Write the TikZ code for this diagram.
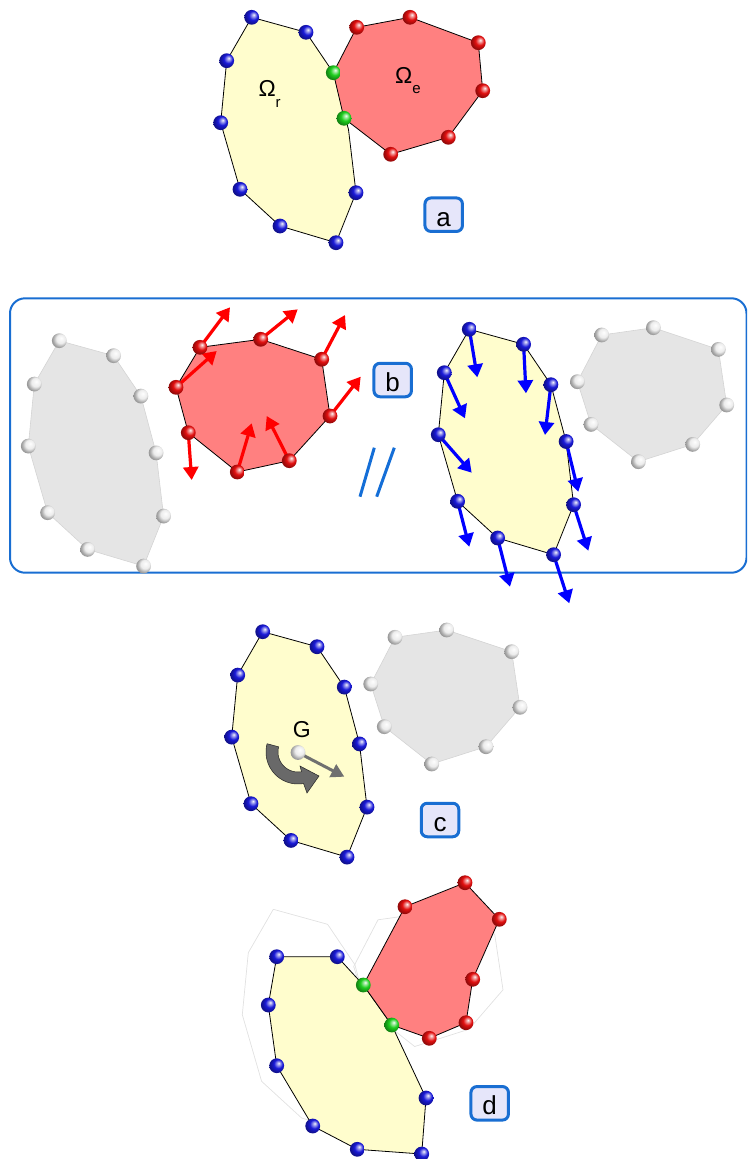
\documentclass[tikz,border=0pt]{standalone}
\usepackage{fontspec}
\setmainfont{Liberation Sans}
\usetikzlibrary{arrows.meta}

\definecolor{yfill}{RGB}{255,253,205}
\definecolor{rfill}{RGB}{255,128,128}
\definecolor{gfill}{RGB}{229,229,229}
\definecolor{gedge}{RGB}{212,212,212}
\definecolor{ghostline}{RGB}{225,225,225}
\definecolor{frameblue}{RGB}{25,110,210}
\definecolor{boxfill}{RGB}{230,230,250}
\definecolor{slashblue}{RGB}{20,110,215}
\definecolor{ballblue}{RGB}{25,25,215}
\definecolor{ballred}{RGB}{225,15,15}
\definecolor{ballgreen}{RGB}{30,205,30}
\definecolor{ballwhite}{RGB}{236,236,236}
\definecolor{rotgray}{RGB}{105,105,105}
\definecolor{movegray}{RGB}{112,112,112}

% shaded sphere with the highlight towards the upper right
\colorlet{sphbase}{blue}
\pgfdeclareradialshading[sphbase]{sphere}{\pgfqpoint{7bp}{9bp}}{%
  color(0bp)=(sphbase!5!white); color(6bp)=(sphbase!45!white);
  color(15bp)=(sphbase); color(25bp)=(sphbase!70!black);
  color(50bp)=(sphbase!30!black)}

\tikzset{
  sph/.style={shading=sphere, /utils/exec={\colorlet{sphbase}{#1}}},
  yellowpoly/.style={fill=yfill, draw=black, line width=0.8pt, line join=round},
  redpoly/.style={fill=rfill, draw=black, line width=0.8pt, line join=round},
  greypoly/.style={fill=gfill, draw=gedge, line width=0.6pt, line join=round},
  ghostpoly/.style={draw=ghostline, line width=0.7pt, line join=round},
  redarrow/.style={draw=red, line width=3.2pt, -{Triangle[length=13pt,width=15pt]}},
  bluearrow/.style={draw=blue, line width=3.2pt, -{Triangle[length=13pt,width=15pt]}},
  movearrow/.style={draw=movegray, line width=3pt, -{Triangle[length=13pt,width=14pt]}},
  slash/.style={draw=slashblue, line width=3pt},
  lbl/.style={inner sep=0pt, font=\fontsize{23}{23}\selectfont},
  tag/.style={draw=frameblue, fill=boxfill, line width=3pt, rounded corners=6pt,
    minimum width=37.5pt, minimum height=33.5pt, inner sep=0pt,
    text height=23pt, text depth=0pt, font=\fontsize{26}{26}\selectfont},
}

% named points of a polygon: prefix, shift, list of x/y points
\newcommand\defpts[3]{%
  \begin{scope}[shift={#2}]
    \foreach \px/\py [count=\k] in #3 {\coordinate (#1-\k) at (\px,\py);}
  \end{scope}}
\newcommand\polypath[2]{(#1-1) \foreach \k in {2,...,#2}{ -- (#1-\k)} -- cycle}
\newcommand\sball[2]{\shade[sph=#2] (#1) circle (7.4);}

% outline of the rigid body and of the elastic body
\newcommand\ylist{251.7/17.3,306/32.3,333.3/72.7,348.5/129.5,356/192.7,336/242.7,280/226,240/189.3,220.7/122.7,226.7/60.7}
\newcommand\crlist{370.7/684,395/637.3,446.7/630,511.7/651.7,520/707.3,486/746.7,431.7/764,384.3/726.7}

\begin{document}
\begin{tikzpicture}[x=1pt, y=-1pt]
\useasboundingbox (0,0) rectangle (747,1159);
\clip (0,0) rectangle (747,1159);

% ---------- points ----------
\defpts{ay}{(0,0)}{\ylist}
\defpts{ar}{(0,0)}{{333.3/72.7,356.7/27.3,410/17.3,478.3/42.7,482.7/90.7,448.3/137.3,390.7/154.3,344/118.3}}

\defpts{bg}{(-192.4,323.4)}{\ylist}
\defpts{br}{(0,0)}{{176/387.3,200/347.3,260.7/339.3,321.7/359.3,330/416,289.3/460.7,237.3/472,188.3/432.7}}
\defpts{brt}{(0,0)}{{216.7/351,230/307.3,297.7/309.3,345/315,360.7/376.7,266.7/416,251.7/423.3,191.7/480}}
\defpts{by}{(217.6,312)}{\ylist}
\defpts{byt}{(0,0)}{{477.3/377.3,526/393.3,545/435,578.3/491.7,588.3/550.7,569.3/603.3,510/586.7,469.3/546.7,471.7/472.7,465/418.3}}
\defpts{bw}{(206.7,-302.3)}{\crlist}

\defpts{cy}{(11,614.4)}{\ylist}
\defpts{cg}{(0,0)}{\crlist}
\coordinate (gc) at (298,752.5);
\coordinate (gtip) at (344.3,776.7);

\defpts{dl}{(21.6,892)}{\ylist}
\defpts{do}{(-17,282.5)}{\crlist}
\defpts{dy}{(0,0)}{{276.7/956.7,337.3/956.7,363.3/985,391.7/1025,426/1098,421.7/1154,357.3/1149.3,312.7/1126,276.7/1065.7,268.3/1005}}
\defpts{dr}{(0,0)}{{363.3/985,405/906.7,465/882.7,499.3/919.3,472.7/979.3,466/1022.7,429.3/1038.3,391.7/1025}}

% ---------- (a) coupled bodies ----------
\path[yellowpoly] \polypath{ay}{10};
\path[redpoly] \polypath{ar}{8};
\foreach \n in {ay-1,ay-2,ay-5,ay-6,ay-7,ay-8,ay-9,ay-10} {\sball{\n}{ballblue}}
\foreach \k in {2,...,7} {\sball{ar-\k}{ballred}}
\sball{ay-3}{ballgreen}
\sball{ar-8}{ballgreen}
\node[lbl, anchor=base west] (omr) at (258.3,96.7) {Ω\raisebox{-10.5pt}{\fontsize{15}{15}\selectfont r}};
\node[lbl, anchor=base west] (ome) at (395,83.3) {Ω\raisebox{-10.5pt}{\fontsize{15}{15}\selectfont e}};
\node[tag] (taga) at (443.7,214.7) {a};

% ---------- (b) exchanged loads ----------
\draw[frameblue, line width=2pt, rounded corners=15pt] (10,298.3) rectangle (746.5,572.7);
\path[greypoly] \polypath{bg}{10};
\path[redpoly] \polypath{br}{8};
\foreach \k in {1,...,8} {\draw[redarrow] (br-\k) -- (brt-\k);}
\path[yellowpoly] \polypath{by}{10};
\foreach \k in {1,...,10} {\draw[bluearrow] (by-\k) -- (byt-\k);}
\path[greypoly] \polypath{bw}{8};
\foreach \k in {1,...,10} {\sball{bg-\k}{ballwhite}}
\foreach \k in {1,...,8} {\sball{br-\k}{ballred}}
\foreach \k in {1,...,10} {\sball{by-\k}{ballblue}}
\foreach \k in {1,...,8} {\sball{bw-\k}{ballwhite}}
\coordinate (s1a) at (360,496.7);  \coordinate (s1b) at (374.3,447.7);
\coordinate (s2a) at (376.7,496.7); \coordinate (s2b) at (394.3,447.7);
\draw[slash] (s1a) -- (s1b);
\draw[slash] (s2a) -- (s2b);
\node[tag] (tagb) at (392.7,380) {b};

% ---------- (c) rigid body motion ----------
\path[yellowpoly] \polypath{cy}{10};
\path[greypoly] \polypath{cg}{8};
\foreach \k in {1,...,10} {\sball{cy-\k}{ballblue}}
\foreach \k in {1,...,8} {\sball{cg-\k}{ballwhite}}
\fill[rotgray, draw=black!85, line width=0.5pt]
  plot[domain=195:80, samples=30] ({298+32*cos(\x)},{752+32*sin(\x)})
  -- (307,793) -- (319,776) -- (300,766)
  -- plot[domain=80:195, samples=30] ({298+20*cos(\x)},{752+20*sin(\x)}) -- cycle;
\draw[movearrow] (gc) -- (gtip);
\sball{gc}{ballwhite}
\node[lbl, anchor=base] (glbl) at (301.7,737.7) {G};
\node[tag] (tagc) at (440,820) {c};

% ---------- (d) updated configuration ----------
\path[ghostpoly] \polypath{dl}{10};
\path[ghostpoly] \polypath{do}{8};
\path[yellowpoly] \polypath{dy}{10};
\path[redpoly] \polypath{dr}{8};
\foreach \n in {dy-1,dy-2,dy-5,dy-6,dy-7,dy-8,dy-9,dy-10} {\sball{\n}{ballblue}}
\foreach \k in {2,...,7} {\sball{dr-\k}{ballred}}
\sball{dy-3}{ballgreen}
\sball{dy-4}{ballgreen}
\node[tag] (tagd) at (489.7,1103.3) {d};
\end{tikzpicture}
\end{document}
